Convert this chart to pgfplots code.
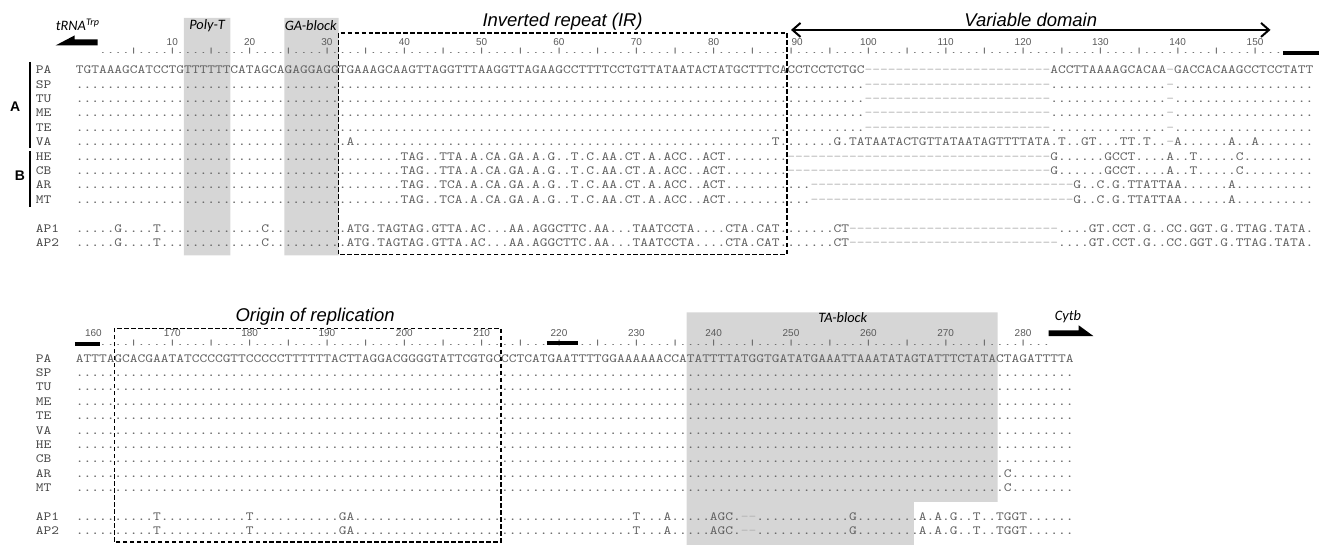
\documentclass[border=0pt]{standalone}
\usepackage{pgfplots}
\pgfplotsset{compat=1.18}
\usepackage{fontspec}
\usetikzlibrary{arrows.meta}
\setmainfont{Liberation Sans}
\newfontfamily\seqfont{lmmono10-regular.otf}[FakeStretch=1.181]
\newfontfamily\rulfont{lmmono10-regular.otf}[FakeStretch=1.8453]
\newfontfamily\calfont{Carlito}
\newcommand\sq{\seqfont\fontsize{12.5bp}{12.5bp}\selectfont}
\newcommand\rul{\rulfont\fontsize{8bp}{8bp}\selectfont}
\newcommand\bigit{\itshape\fontsize{18.5bp}{18.5bp}\selectfont}
\newcommand\calit{\calfont\itshape\fontsize{14.4bp}{14.4bp}\selectfont}
\newcommand\numf{\fontsize{10bp}{10bp}\selectfont}
\ExplSyntaxOn
\cs_new:Npn \Rp #1#2 { \prg_replicate:nn {#1} {#2} }
\ExplSyntaxOff
\newcommand\G[1]{\textcolor{black!30}{\Rp{#1}{-}}}
% top block rows
\def\tPA{TGTAAAGCATCCTGTTTTTTCATAGCAGAGGAGGTGAAAGCAAGTTAGGTTTAAGGTTAGAAGCCTTTTCCTGTTATAATACTATGCTTTCACCTCCTCTGC\G{24}ACCTTAAAAGCACAA\G{1}GACCACAAGCCTCCTATT}
\def\tSP{\Rp{102}{.}\G{24}\Rp{15}{.}\G{1}\Rp{18}{.}}
\def\tVA{\Rp{35}{.}A\Rp{54}{.}T.\Rp{6}{.}G.TATAATACTGTTATAATAGTTTTATA.T..GT...TT.T..\G{1}A\Rp{6}{.}A..A\Rp{7}{.}}
\def\tHE{\Rp{42}{.}TAG..TTA.A.CA.GA.A.G..T.C.AA.CT.A.ACC..ACT\Rp{8}{.}\G{34}G\Rp{6}{.}GCCT....A..T\Rp{5}{.}C\Rp{9}{.}}
\def\tAR{\Rp{42}{.}TAG..TCA.A.CA.GA.A.G..T.C.AA.CT.A.ACC..ACT\Rp{8}{.}...\G{34}G..C.G.TTATTAA\Rp{6}{.}A\Rp{10}{.}}
\def\tAP{.....G....T\Rp{13}{.}C\Rp{9}{.}.ATG.TAGTAG.GTTA.AC...AA.AGGCTTC.AA...TAATCCTA....CTA.CAT.\Rp{6}{.}CT\G{27}....GT.CCT.G..CC.GGT.G.TTAG.TATA.}
% bottom block rows
\def\bPA{ATTTAGCACGAATATCCCCGTTCCCCCTTTTTTACTTAGGACGGGGTATTCGTGCCCTCATGAATTTTGGAAAAAACCATATTTTATGGTGATATGAAATTAAATATAGTATTTCTATACTAGATTTTA}
\def\bSP{\Rp{129}{.}}
\def\bAR{\Rp{120}{.}C\Rp{8}{.}}
\def\bAP{\Rp{10}{.}T\Rp{11}{.}T\Rp{11}{.}GA\Rp{36}{.}T...A.....AGC.\G{2}\Rp{12}{.}G\Rp{8}{.}A.A.G..T..TGGT......}
\newcommand\seqrow[3]{\node[anchor=base west, inner sep=0pt, font=\sq, text=black!62] at (axis cs:0,#1) {#3};
  \node[anchor=base west, inner sep=0pt, font=\sq, text=black!72] at (axis cs:-5.16,#1) {#2};}
\newcommand\tnum[2]{\node[anchor=base, inner sep=0pt, font=\numf, text=black!65] at (axis cs:#1,45.5) {#2};}
\newcommand\bnum[2]{\node[anchor=base, inner sep=0pt, font=\numf, text=black!65] at (axis cs:#1,337) {#2};}
\begin{document}
\newlength\chw
\settowidth\chw{\sq A}
\begin{tikzpicture}
\begin{axis}[x=\chw, y=1bp, y dir=reverse, xmin=-9.42, xmax=160.77, ymin=0, ymax=546,
  hide axis, clip=false]
% shaded blocks
\addplot[fill=black!16, draw=none] coordinates {(14,18) (20,18) (20,256) (14,256) (14,18)};
\addplot[fill=black!16, draw=none] coordinates {(27,18) (34,18) (34,256) (27,256) (27,18)};
\addplot[fill=black!16, draw=none] coordinates {(79,313) (119.2,313) (119.2,503) (108.4,503) (108.4,546) (79,546) (79,313)};
% rulers
\node[anchor=base west, inner sep=0pt, font=\rul, text=black!62] at (axis cs:3,53.5) {\Rp{30}{....|}...};
\node[anchor=base west, inner sep=0pt, font=\rul, text=black!62] at (axis cs:3,346) {\Rp{24}{....|}...};
% ruler numbers top
\tnum{12.5}{10}
\tnum{22.5}{20}
\tnum{32.5}{30}
\tnum{42.5}{40}
\tnum{52.5}{50}
\tnum{62.5}{60}
\tnum{72.5}{70}
\tnum{82.5}{80}
\tnum{93.3}{90}
\tnum{102.5}{100}
\tnum{112.5}{110}
\tnum{122.5}{120}
\tnum{132.5}{130}
\tnum{142.5}{140}
\tnum{152.5}{150}
% ruler numbers bottom
\bnum{2.3}{160}
\bnum{12.5}{170}
\bnum{22.5}{180}
\bnum{32.5}{190}
\bnum{42.5}{200}
\bnum{52.5}{210}
\bnum{62.5}{220}
\bnum{72.5}{230}
\bnum{82.5}{240}
\bnum{92.5}{250}
\bnum{102.5}{260}
\bnum{112.5}{270}
\bnum{122.5}{280}
% thick bars and arrows
\addplot[black, line width=4bp] coordinates {(156.1,53) (160.8,53)};
\addplot[black, line width=4bp] coordinates {(-0.1,345) (3.1,345)};
\addplot[black, line width=4bp] coordinates {(60.9,344) (65.0,344)};
\addplot[fill=black, draw=none] coordinates {(-2.58,45.5) (-0.13,35.5) (-0.13,39.5) (2.84,39.5) (2.84,45.5) (-2.58,45.5)};
\addplot[fill=black, draw=none] coordinates {(125.8,331) (129.7,331) (129.7,326) (131.6,336.8) (125.8,336.8) (125.8,331)};
\addplot[black, line width=2bp, {Straight Barb[length=8bp,width=14bp]}-{Straight Barb[length=8bp,width=14bp]}] coordinates {(92.5,30) (154.5,30)};
% dashed boxes
\addplot[black, line width=1.5bp, dash pattern=on 4.5bp off 2.5bp] coordinates {(34,255) (34,33) (92,33) (92,255) (34,255)};
\addplot[black, line width=1.5bp, dash pattern=on 4.5bp off 2.5bp] coordinates {(5,543) (5,329) (55,329) (55,543) (5,543)};
% group bars
\addplot[black, line width=2bp] coordinates {(-5.94,62) (-5.94,148)};
\addplot[black, line width=2bp] coordinates {(-5.94,151) (-5.94,207)};
\node[font=\bfseries\fontsize{14bp}{14bp}\selectfont] at (axis cs:-7.8,107) {A};
\node[font=\bfseries\fontsize{14bp}{14bp}\selectfont] at (axis cs:-7.2,176) {B};
% labels
\node[anchor=base, font=\bigit] at (axis cs:62.97,27) {Inverted repeat (IR)};
\node[anchor=base, font=\bigit] at (axis cs:123.5,27) {Variable domain};
\node[anchor=base, font=\bigit] at (axis cs:30.97,322) {Origin of replication};
\node[anchor=base, font=\calit] at (axis cs:17,30) {Poly-T};
\node[anchor=base, font=\calit] at (axis cs:30.4,31) {GA-block};
\node[anchor=base, font=\calit] at (axis cs:99.2,323) {TA-block};
\node[anchor=base, font=\calit] at (axis cs:128.3,321) {Cytb};
\node[anchor=base west, inner sep=0pt, font=\calit] at (axis cs:-2.58,31) {tRNA\textsuperscript{Trp}};
% top block
\seqrow{73.8}{PA}{\tPA}
\seqrow{88.2}{SP}{\tSP}
\seqrow{102.7}{TU}{\tSP}
\seqrow{117.1}{ME}{\tSP}
\seqrow{131.6}{TE}{\tSP}
\seqrow{146}{VA}{\tVA}
\seqrow{160.5}{HE}{\tHE}
\seqrow{174.9}{CB}{\tHE}
\seqrow{189.4}{AR}{\tAR}
\seqrow{203.8}{MT}{\tAR}
\seqrow{232.5}{AP1}{\tAP}
\seqrow{247}{AP2}{\tAP}
% bottom block
\seqrow{362.8}{PA}{\bPA}
\seqrow{377.2}{SP}{\bSP}
\seqrow{391.7}{TU}{\bSP}
\seqrow{406.1}{ME}{\bSP}
\seqrow{420.6}{TE}{\bSP}
\seqrow{435}{VA}{\bSP}
\seqrow{449.5}{HE}{\bSP}
\seqrow{463.9}{CB}{\bSP}
\seqrow{478.4}{AR}{\bAR}
\seqrow{492.8}{MT}{\bAR}
\seqrow{521.5}{AP1}{\bAP}
\seqrow{536}{AP2}{\bAP}
\end{axis}
\pgfresetboundingbox
\useasboundingbox (current axis.south west) rectangle (current axis.north east);
\end{tikzpicture}
\end{document}
